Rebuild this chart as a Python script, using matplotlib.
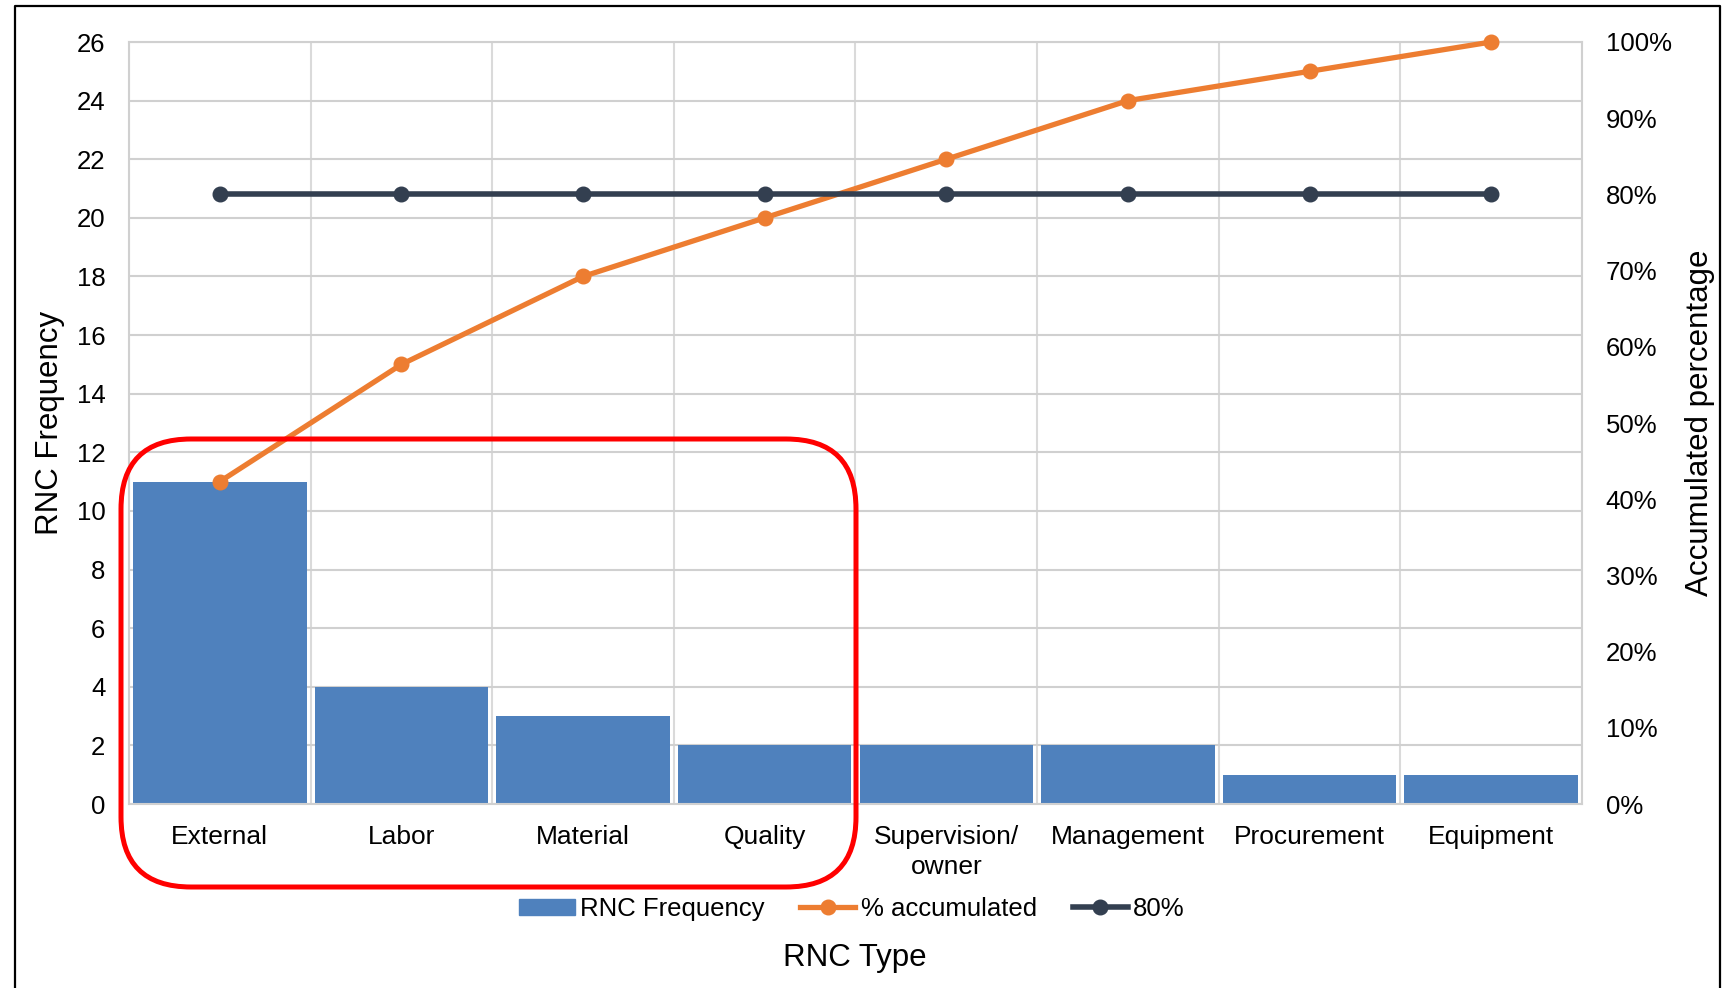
import numpy as np
import matplotlib.pyplot as plt
from matplotlib.patches import FancyBboxPatch, Patch
from matplotlib.lines import Line2D

plt.rcParams['font.family'] = ['Liberation Sans', 'DejaVu Sans']

# RNC counts per type, sorted for the Pareto chart
rncTypes = ['External', 'Labor', 'Material', 'Quality', 'Supervision/\nowner',
            'Management', 'Procurement', 'Equipment']
rncFrequency = [11, 4, 3, 2, 2, 2, 1, 1]
thresholdPct = 0.80
pctTicks = [0.0, 0.1, 0.2, 0.3, 0.4, 0.5, 0.6, 0.7, 0.8, 0.9, 1.0]
freqTicks = list(range(0, 27, 2))

barColour = '#4F81BD'
cumColour = '#ED7D31'
lineColour = '#333F50'
gridColour = '#D0D0D0'

freq = np.array(rncFrequency)
cumPct = np.cumsum(freq) / freq.sum()
xPos = np.arange(len(rncTypes))

fig = plt.figure(figsize=(17.31, 9.88), dpi=100)
ax = fig.add_axes([129 / 1731, 1 - 804 / 988, 1453 / 1731, 762 / 988])

ax.bar(xPos, freq, width=0.955, color=barColour, zorder=2)
ax.set_xlim(-0.5, len(rncTypes) - 0.5)
ax.set_ylim(0, 26)
ax.set_yticks(freqTicks)
ax.set_xticks(xPos)
ax.set_xticklabels(rncTypes, fontsize=19, linespacing=1.3)

# category separators and horizontal grid
ax.set_xticks(np.arange(-0.5, len(rncTypes), 1.0), minor=True)
ax.grid(True, which='minor', axis='x', color='#DADADA', lw=1.5)
ax.grid(True, which='major', axis='y', color=gridColour, lw=1.5)
ax.set_axisbelow(True)
for s in ax.spines.values():
    s.set_color(gridColour)
    s.set_linewidth(1.5)
ax.tick_params(axis='both', which='both', length=0)
ax.tick_params(axis='y', labelsize=18.5, pad=17)
ax.tick_params(axis='x', pad=15)

ax.set_ylabel('RNC Frequency', fontsize=22.5, va='center')
ax.yaxis.set_label_coords(-0.0544, 0.5)

ax2 = ax.twinx()
ax2.set_ylim(0, 1)
ax2.set_yticks(pctTicks)
ax2.set_yticklabels(['{:.0f}%'.format(p * 100) for p in pctTicks])
ax2.tick_params(axis='y', length=0, labelsize=18.5, pad=17)
for s in ax2.spines.values():
    s.set_visible(False)

ax2.plot(xPos, cumPct, color=cumColour, lw=3.8, marker='o', markersize=10.5,
         clip_on=False, zorder=3)
ax2.plot(xPos, np.full(len(rncTypes), thresholdPct), color=lineColour, lw=4,
         marker='o', markersize=10.5, clip_on=False, zorder=3)

ax2.set_ylabel('Accumulated percentage', fontsize=22.5, va='center', rotation=90)
ax2.yaxis.set_label_coords(1.081, 0.5)

fig.text(855 / 1731, 1 - 958 / 988, 'RNC Type', fontsize=22.5, ha='center', va='center')

handles = [Patch(color=barColour),
           Line2D([], [], color=cumColour, lw=3.8, marker='o', markersize=10.5),
           Line2D([], [], color=lineColour, lw=4, marker='o', markersize=10.5)]
fig.legend(handles, ['RNC Frequency', '% accumulated', '80%'], loc='center',
           bbox_to_anchor=(852 / 1731, 1 - 909 / 988), ncol=3, frameon=False,
           fontsize=18.5, handlelength=2.15, handletextpad=0.2, columnspacing=1.4,
           handleheight=0.6)

# red box around the first four types (drawn in inches)
box = FancyBboxPatch((1.21, 1.01), 7.35, 4.48,
                     boxstyle='round,pad=0,rounding_size=0.7',
                     transform=fig.dpi_scale_trans, fill=False,
                     edgecolor='#FF0000', lw=3.6, zorder=10)
fig.add_artist(box)

# outer frame
fig.add_artist(Line2D([15 / 1731, 15 / 1731, 1720 / 1731, 1720 / 1731],
                      [0, 1 - 6 / 988, 1 - 6 / 988, 0],
                      transform=fig.transFigure, color='black', lw=1.6))

fig.savefig('out.png', dpi=100)
